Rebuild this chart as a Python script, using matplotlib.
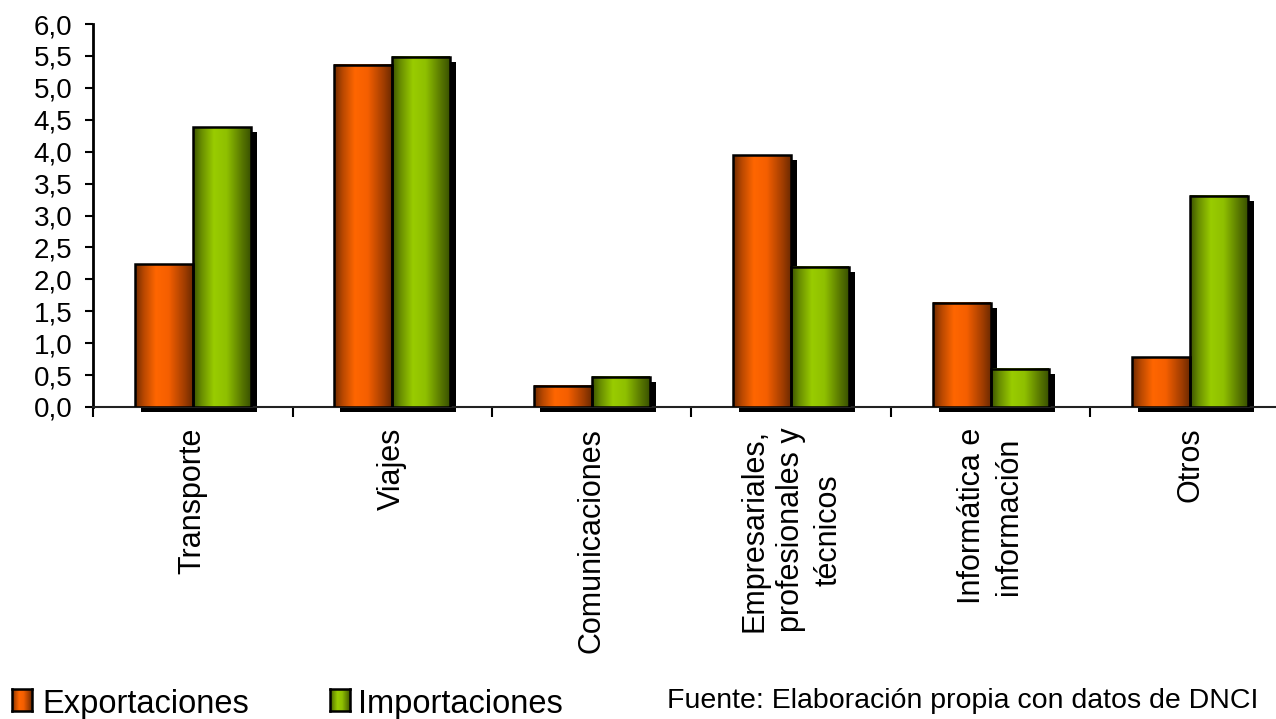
import matplotlib.pyplot as plt
import numpy as np
from matplotlib.colors import LinearSegmentedColormap
from matplotlib.patches import Rectangle
import matplotlib.transforms as mtransforms

plt.rcParams['font.family'] = ['Liberation Sans', 'DejaVu Sans']

# datos
categorias = ["Transporte", "Viajes", "Comunicaciones",
              "Empresariales,\nprofesionales y\ntécnicos",
              "Informática e\ninformación", "Otros"]
exportaciones = [2.24, 5.36, 0.33, 3.94, 1.63, 0.78]
importaciones = [4.38, 5.49, 0.47, 2.20, 0.60, 3.31]
series = ["Exportaciones", "Importaciones"]
yticks = [0.0, 0.5, 1.0, 1.5, 2.0, 2.5, 3.0, 3.5, 4.0, 4.5, 5.0, 5.5, 6.0]
ytick_labels = ["0,0", "0,5", "1,0", "1,5", "2,0", "2,5", "3,0",
                "3,5", "4,0", "4,5", "5,0", "5,5", "6,0"]
fuente = "Fuente: Elaboración propia con datos de DNCI"

# degradados tipo cilindro
naranja = LinearSegmentedColormap.from_list("naranja", [
    (0.0, "#6e2a00"), (0.15, "#b84800"), (0.36, "#ff6600"),
    (0.58, "#f55f00"), (0.85, "#a33e00"), (1.0, "#6e2a00")])
verde = LinearSegmentedColormap.from_list("verde", [
    (0.0, "#3a5200"), (0.15, "#6a8f00"), (0.36, "#99cc00"),
    (0.58, "#8fc000"), (0.85, "#577600"), (1.0, "#3a5200")])
grad = np.linspace(0, 1, 256).reshape(1, -1)

fig = plt.figure(figsize=(12.76, 7.19), dpi=100)
ax = fig.add_axes([93 / 1276, 1 - 407 / 719, 1197 / 1276, 383 / 719])

sombra_tr = mtransforms.offset_copy(ax.transData, fig=fig, x=6, y=-5, units='dots')
ancho = 0.29
x = np.arange(len(categorias))

for valores, cmap, desp in [(exportaciones, naranja, -ancho), (importaciones, verde, 0)]:
    for xi, v in zip(x, valores):
        x0 = xi + desp
        ax.add_patch(Rectangle((x0, 0), ancho, v, fc='black', ec='none',
                               transform=sombra_tr, zorder=2, clip_on=False))
        ax.imshow(grad, cmap=cmap, extent=(x0, x0 + ancho, 0, v), aspect='auto',
                  interpolation='bicubic', zorder=3)
        ax.add_patch(Rectangle((x0, 0), ancho, v, fill=False, ec='black',
                               lw=1.8, zorder=4))

ax.set_xlim(-0.5, 5.5)
ax.set_ylim(0, 6)

ax.set_xticks(x)
ax.set_xticklabels(categorias, rotation=90, va='top', ha='center', fontsize=22,
                   linespacing=1.3)
ax.set_xticks(np.arange(-0.5, 6, 1), minor=True)
ax.tick_params(axis='x', which='major', length=0, pad=15)
ax.tick_params(axis='x', which='minor', length=7.5, width=1.5, direction='out')

ax.set_yticks(yticks)
ax.set_yticklabels(ytick_labels, fontsize=20)
ax.tick_params(axis='y', length=6, width=1.5, pad=9)

ax.spines['top'].set_visible(False)
ax.spines['right'].set_visible(False)
ax.spines['left'].set_linewidth(2)
ax.spines['bottom'].set_linewidth(1.5)
ax.spines['bottom'].set_color('#222222')

# leyenda manual
for nombre, cmap, xc, xt in [(series[0], naranja, 12, 42), (series[1], verde, 330, 358)]:
    cuadro = fig.add_axes([xc / 1276, 1 - 711 / 719, 20 / 1276, 22 / 719])
    cuadro.imshow(grad, cmap=cmap, aspect='auto')
    cuadro.set_xticks([])
    cuadro.set_yticks([])
    for s in cuadro.spines.values():
        s.set_linewidth(1.8)
    fig.text(xt / 1276, 1 - 713 / 719, nombre, fontsize=23.5, va='baseline')

fig.text(667 / 1276, 1 - 708 / 719, fuente, fontsize=20.5, va='baseline')

fig.savefig("out.png", dpi=100)
